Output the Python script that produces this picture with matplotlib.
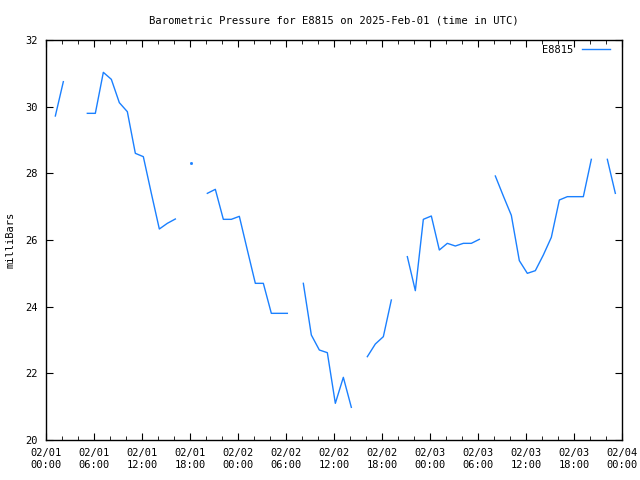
import numpy as np
import pandas as pd
import matplotlib
matplotlib.use("Agg")
import matplotlib.pyplot as plt
import matplotlib.dates as mdates

# hourly readings, first one at 01:10 UTC; NaN = missing reading
start = pd.Timestamp("2025-02-01 00:10")
hours = np.arange(1, 72)
pressure = [
    29.72, 30.75, np.nan, np.nan,                                  # 1-4
    29.8, 29.8, 31.03, 30.82, 30.12, 29.85, 28.6, 28.5, 27.4, 26.33, 26.5, 26.63,  # 5-16
    np.nan, 28.3, np.nan,                                          # 17-19
    27.4, 27.52, 26.62, 26.62, 26.71, 25.7, 24.7, 24.7, 23.8, 23.8, 23.8,  # 20-30
    np.nan,                                                        # 31
    24.7, 23.15, 22.7, 22.62, 21.1, 21.88, 20.98,                  # 32-38
    np.nan,                                                        # 39
    22.5, 22.88, 23.1, 24.2,                                       # 40-43
    np.nan,                                                        # 44
    25.5, 24.48, 26.62, 26.72, 25.7, 25.9, 25.82, 25.9, 25.9, 26.02,  # 45-54
    np.nan,                                                        # 55
    27.92, 27.32, 26.74, 25.38, 25.0, 25.08, 25.55, 26.08, 27.2, 27.3, 27.3, 27.3, 28.42,  # 56-68
    np.nan,                                                        # 69
    28.42, 27.4,                                                   # 70-71
]

times = start + pd.to_timedelta(hours, unit="h")
s = pd.Series(pressure, index=times)

# isolated readings would not show as a line, so mark them as single dots
isnan = s.isna().values
prev_nan = np.r_[True, isnan[:-1]]
next_nan = np.r_[isnan[1:], True]
single = (~isnan) & prev_nan & next_nan

color = "#1a80ff"
plt.rcParams["font.family"] = ["DejaVu Sans Mono"]
plt.rcParams["font.size"] = 7.5

fig = plt.figure(figsize=(6.4, 4.8), dpi=100)
ax = fig.add_axes([46 / 640, 40 / 480, 576 / 640, 400 / 480])
ax.plot(s.index, s.values, color=color, lw=1, label="E8815")
ax.plot(s.index[single], s.values[single], ls="none", marker="s", ms=1, color=color)

ax.set_xlim(pd.Timestamp("2025-02-01"), pd.Timestamp("2025-02-04"))
ax.set_ylim(20, 32)
ax.set_yticks(np.arange(20, 33, 2))
ax.xaxis.set_major_locator(mdates.HourLocator(byhour=range(0, 24, 6)))
ax.xaxis.set_minor_locator(mdates.HourLocator(byhour=range(0, 24, 2)))
ax.xaxis.set_major_formatter(mdates.DateFormatter("%m/%d\n%H:%M"))
ax.tick_params(which="both", direction="in", top=True, right=True, pad=6)
ax.tick_params(which="major", length=5)
ax.tick_params(which="minor", length=3)
for sp in ax.spines.values():
    sp.set_linewidth(1)

ax.set_title("Barometric Pressure for E8815 on 2025-Feb-01 (time in UTC)",
             fontsize=7.6, pad=12)
ax.set_ylabel("milliBars", labelpad=7)
leg = ax.legend(loc="upper right", frameon=False, handlelength=2.7,
                handletextpad=0.8, markerfirst=False, borderaxespad=0,
                borderpad=0, bbox_to_anchor=((610 - 46) / 576, (440 - 45) / 400))

fig.savefig("out.png", dpi=100)
